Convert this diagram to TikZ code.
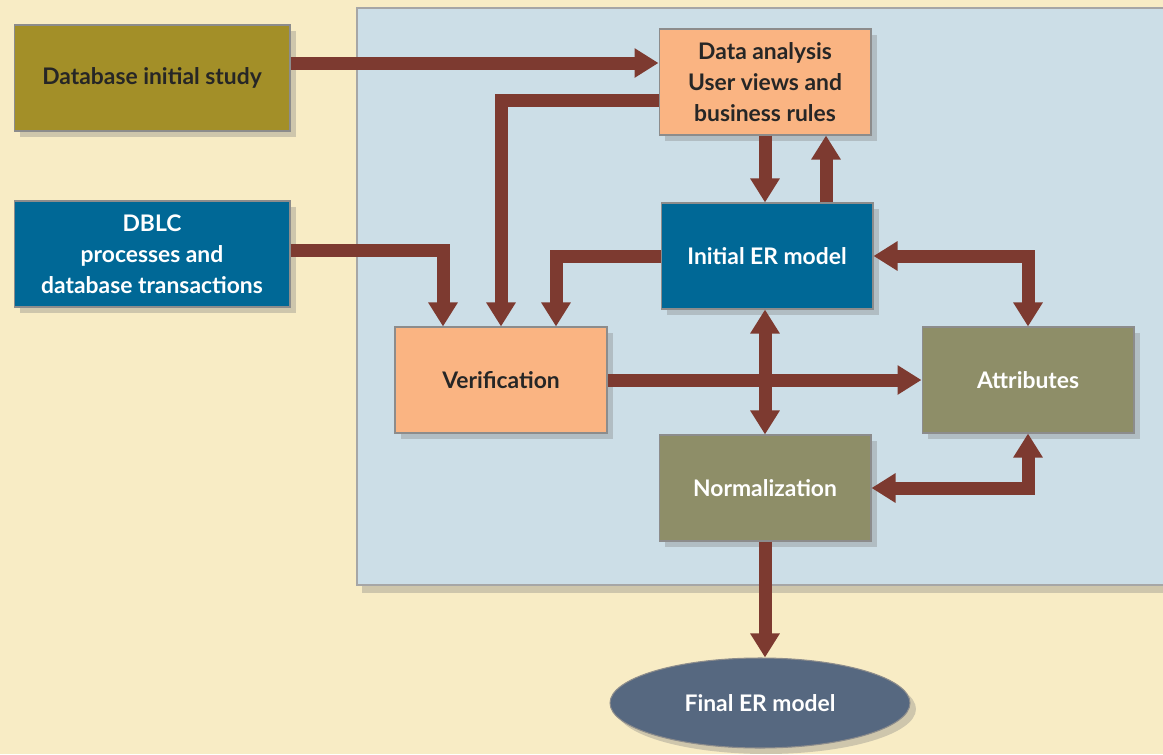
\documentclass[tikz,border=0pt]{standalone}
\usepackage{fontspec}
\setmainfont{Lato}
\usetikzlibrary{arrows.meta,shadows,shapes.geometric}

\definecolor{bgcream}{RGB}{248,236,197}
\definecolor{panelblue}{RGB}{204,222,231}
\definecolor{oliveA}{RGB}{163,143,40}
\definecolor{blueA}{RGB}{0,104,150}
\definecolor{orangeA}{RGB}{250,180,130}
\definecolor{greyolive}{RGB}{142,142,104}
\definecolor{slateA}{RGB}{86,104,128}
\definecolor{arrowred}{RGB}{125,58,48}

\tikzset{
  box/.style={draw=black!45, line width=0.6pt, minimum width=4.24cm, minimum height=2.12cm,
    align=center, inner sep=2pt, font=\fontsize{13}{17.5}\selectfont\bfseries,
    drop shadow={shadow xshift=0.12cm, shadow yshift=-0.12cm, opacity=0.35}},
  widebox/.style={box, minimum width=5.52cm},
  flow/.style={draw=arrowred, line width=0.26cm, -{Triangle[width=0.56cm,length=0.48cm]}},
  both/.style={flow, {Triangle[width=0.56cm,length=0.48cm]}-{Triangle[width=0.56cm,length=0.48cm]}},
}

\begin{document}
\begin{tikzpicture}[x=0.02cm, y=-0.02cm]
  % page and background
  \clip (0,0) rectangle (1163,754);
  \fill[bgcream] (0,0) rectangle (1163,754);

  % --- blue panel ---
  \draw[fill=panelblue, draw=black!35, line width=0.8pt,
    drop shadow={shadow xshift=0.1cm, shadow yshift=-0.16cm, opacity=0.35}]
    (357,8) rectangle (1190,585);

  % === Left: inputs ===
  \node[widebox, fill=oliveA, text=black!85] (dbis) at (152,78) {Database initial study};
  \node[widebox, fill=blueA, text=white] (dblc) at (152,254)
    {DBLC\\processes and\\database transactions};

  % === Panel boxes ===
  \node[box, fill=orangeA, text=black!85] (da)   at (765,82)  {Data analysis\\User views and\\business rules};
  \node[box, fill=blueA, text=white]      (ier)  at (767,256) {Initial ER model};
  \node[box, fill=orangeA, text=black!85] (ver)  at (501,380) {Verification};
  \node[box, fill=greyolive, text=white]  (attr) at (1028,380) {Attributes};
  \node[box, fill=greyolive, text=white]  (norm) at (765,488) {Normalization};

  % output
  \node[ellipse, draw=black!45, line width=0.6pt, fill=slateA, text=white,
    minimum width=6cm, minimum height=1.8cm, inner sep=0pt,
    font=\fontsize{13}{17.5}\selectfont\bfseries,
    drop shadow={shadow xshift=0.12cm, shadow yshift=-0.12cm, opacity=0.35}]
    (final) at (760,703) {Final ER model};

  % === Connectors ===
  \draw[flow] (dbis.east |- 0,63) -- (da.west |- 0,63);
  \draw[flow] (da.west |- 0,100) -| (ver.north);
  \draw[flow] (dblc.east |- 0,250) -| (ver.north -| 443,0);
  \draw[flow] (ier.west) -| (ver.north -| 556,0);

  \draw[flow] (da.south) -- (da.south |- ier.north);
  \draw[flow] (ier.north -| 826,0) -- (da.south -| 826,0);

  \draw[both] (ier.east) -| (attr.north);
  \draw[flow] (ver.east) -- (attr.west);
  \draw[both] (ier.south -| norm.north) -- (norm.north);
  \draw[both] (norm.east) -| (attr.south);

  \draw[flow] (norm.south) -- (norm.south |- final.north);
\end{tikzpicture}
\end{document}
